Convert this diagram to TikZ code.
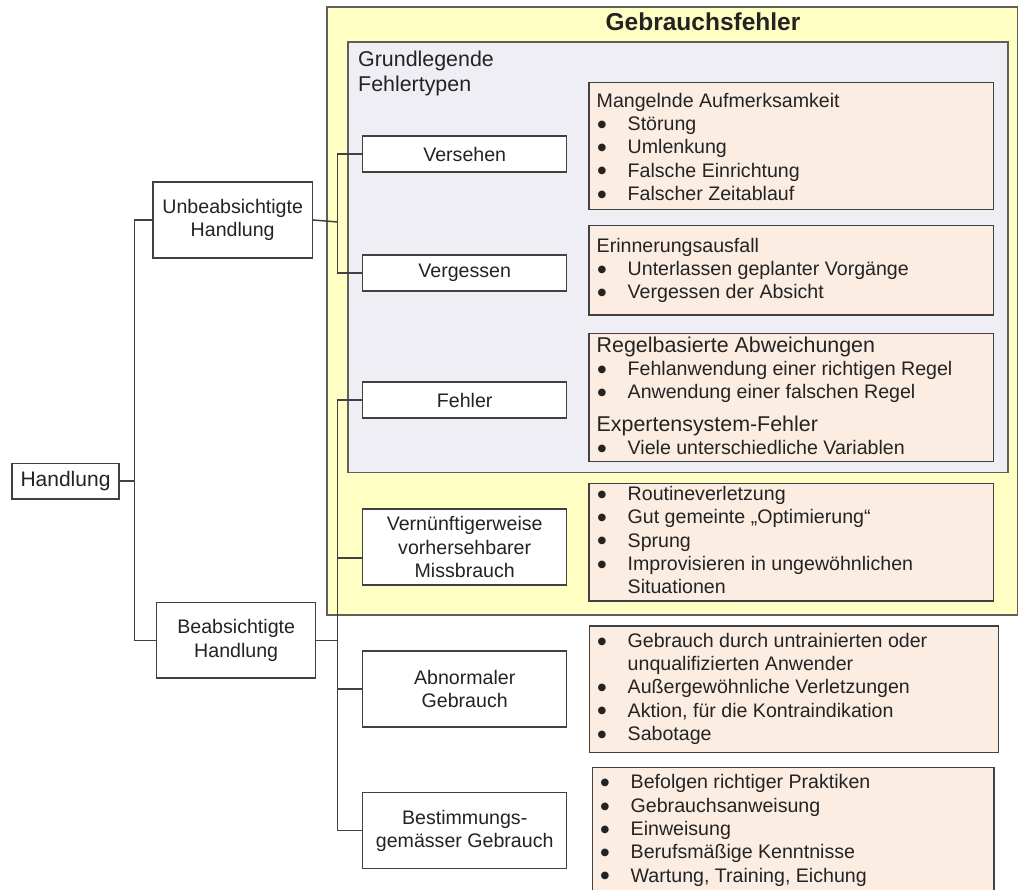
\documentclass[tikz,border=0pt]{standalone}
\usepackage{fontspec}
\setmainfont{Liberation Sans}
\newfontfamily\dotfont{DejaVu Sans}
\usepackage{tikz}

\definecolor{frameyellow}{RGB}{255,255,196}
\definecolor{framegrey}{RGB}{239,238,245}
\definecolor{framedraw}{RGB}{95,95,85}
\definecolor{listpeach}{RGB}{252,237,226}
\definecolor{linegrey}{RGB}{65,65,65}
\definecolor{textgrey}{RGB}{35,35,35}

\begin{document}
\begin{tikzpicture}[y=-1pt,x=1pt,
	every node/.style={text=textgrey},
	kind/.style={draw=linegrey, line width=1.5pt, fill=white, inner sep=0pt, align=center,
		minimum width=204, minimum height=35.7, font=\fontsize{19.6}{23.3}\selectfont},
	listbox/.style={draw=linegrey, line width=1.5pt, fill=listpeach},
	listtext/.style={anchor=north west, inner sep=0pt, font=\fontsize{19.6}{23.3}\selectfont},
	wire/.style={draw=linegrey, line width=1.5pt}]
	\newcommand\BulletList[1]{\begin{tabular}{@{}p{31pt}@{}l@{}}#1\end{tabular}}
	\newcommand\ListHead[1]{\multicolumn{2}{@{}l@{}}{#1}\\}
	\newcommand\ListBig[1]{\multicolumn{2}{@{}l@{}}{\fontsize{21.4}{23.3}\selectfont #1}\\}
	\newcommand\ListItem[1]{\hspace{1pt}\raisebox{3.2pt}{\dotfont\fontsize{10}{0}\selectfont ●} & #1\\}
	\newcommand\ListMore[1]{& #1\\}

	\useasboundingbox (0,0) rectangle (1018,890);

	% frames
	\draw[line width=1.8pt, draw=framedraw, fill=frameyellow] (327,6.7) rectangle (1018,615);
	\draw[line width=1.6pt, draw=framedraw, fill=framegrey] (347.7,42.3) rectangle (1007.7,472.7);
	\node[anchor=base, font=\bfseries\fontsize{24.5}{28}\selectfont] (title) at (703,31) {Gebrauchsfehler};
	\node[anchor=north west, inner sep=0pt, align=left, font=\fontsize{21.4}{25}\selectfont] (grundtypen) at (358,48.5)
		{\strut Grundlegende\\Fehlertypen};

	% tree
	\node[kind, minimum width=107, font=\fontsize{21}{25}\selectfont] (handlung) at (65.5,481.2) {Handlung};
	\node[kind, minimum width=159.3, minimum height=76] (unbeab) at (232.7,220) {Unbeabsichtigte\\Handlung};
	\node[kind, minimum width=159, minimum height=75.3] (beab) at (236.2,640.3) {Beabsichtigte\\Handlung};
	\node[kind] (versehen) at (464.7,154) {Versehen};
	\node[kind] (vergessen) at (464.7,273) {Vergessen};
	\node[kind] (fehler) at (464.7,400) {Fehler};
	\node[kind, minimum height=76.3] (missbrauch) at (464.7,547) {Vernünftigerweise\\vorhersehbarer\\Missbrauch};
	\node[kind, minimum height=76.3] (abnormal) at (464.7,689) {Abnormaler\\Gebrauch};
	\node[kind, minimum height=76] (bestimmung) at (464.7,830.7) {Bestimmungs-\\gemässer Gebrauch};

	\coordinate (lbus) at (134.3,481.2);
	\coordinate (ubus) at (337.7,222);
	\coordinate (bbus) at (337.7,640.3);
	\coordinate (mjoin) at ([yshift=-11pt]missbrauch.west);
	\draw[wire] (handlung.east) -- (lbus);
	\draw[wire] (unbeab.west) -| (lbus) |- (beab.west);
	\draw[wire] (unbeab.east) -- (ubus);
	\draw[wire] (versehen.west) -| (ubus) |- (vergessen.west);
	\draw[wire] (beab.east) -- (bbus);
	\draw[wire] (fehler.west) -| (bbus) |- (bestimmung.west);
	\draw[wire] (mjoin) -- (mjoin -| bbus);
	\draw[wire] (abnormal.west) -- (abnormal.west -| bbus);

	% lists
	\draw[listbox] (589,82.7) rectangle (993.3,209.3);
	\draw[listbox] (589,225.7) rectangle (993.3,315);
	\draw[listbox] (589,333.3) rectangle (993.3,461.7);
	\draw[listbox] (589,483.3) rectangle (993.3,601);
	\draw[listbox] (589.3,626) rectangle (998.7,752.7);
	\draw[listbox] (592.3,767.7) rectangle (994,900);

	\node[listtext] (aufmerksamkeit) at (596.5,90.7) {\BulletList{
		\ListHead{Mangelnde Aufmerksamkeit}
		\ListItem{Störung}
		\ListItem{Umlenkung}
		\ListItem{Falsche Einrichtung}
		\ListItem{Falscher Zeitablauf}}};
	\node[listtext] (erinnerung) at (596.5,235.7) {\BulletList{
		\ListHead{Erinnerungsausfall}
		\ListItem{Unterlassen geplanter Vorgänge}
		\ListItem{Vergessen der Absicht}}};
	\node[listtext] (regeln) at (596.5,335.7) {\BulletList{
		\ListBig{Regelbasierte Abweichungen}
		\ListItem{Fehlanwendung einer richtigen Regel}
		\ListItem{Anwendung einer falschen Regel}
		\noalign{\vskip9pt}
		\ListBig{Expertensystem-Fehler}
		\ListItem{Viele unterschiedliche Variablen}}};
	\node[listtext] (routine) at (596.5,484) {\BulletList{
		\ListItem{Routineverletzung}
		\ListItem{Gut gemeinte „Optimierung“}
		\ListItem{Sprung}
		\ListItem{Improvisieren in ungewöhnlichen}
		\ListMore{Situationen}}};
	\node[listtext] (abnormliste) at (596.5,630.7) {\BulletList{
		\ListItem{Gebrauch durch untrainierten oder}
		\ListMore{unqualifizierten Anwender}
		\ListItem{Außergewöhnliche Verletzungen}
		\ListItem{Aktion, für die Kontraindikation}
		\ListItem{Sabotage}}};
	\node[listtext] (korrektliste) at (599.5,772.4) {\BulletList{
		\ListItem{Befolgen richtiger Praktiken}
		\ListItem{Gebrauchsanweisung}
		\ListItem{Einweisung}
		\ListItem{Berufsmäßige Kenntnisse}
		\ListItem{Wartung, Training, Eichung}}};
\end{tikzpicture}
\end{document}
